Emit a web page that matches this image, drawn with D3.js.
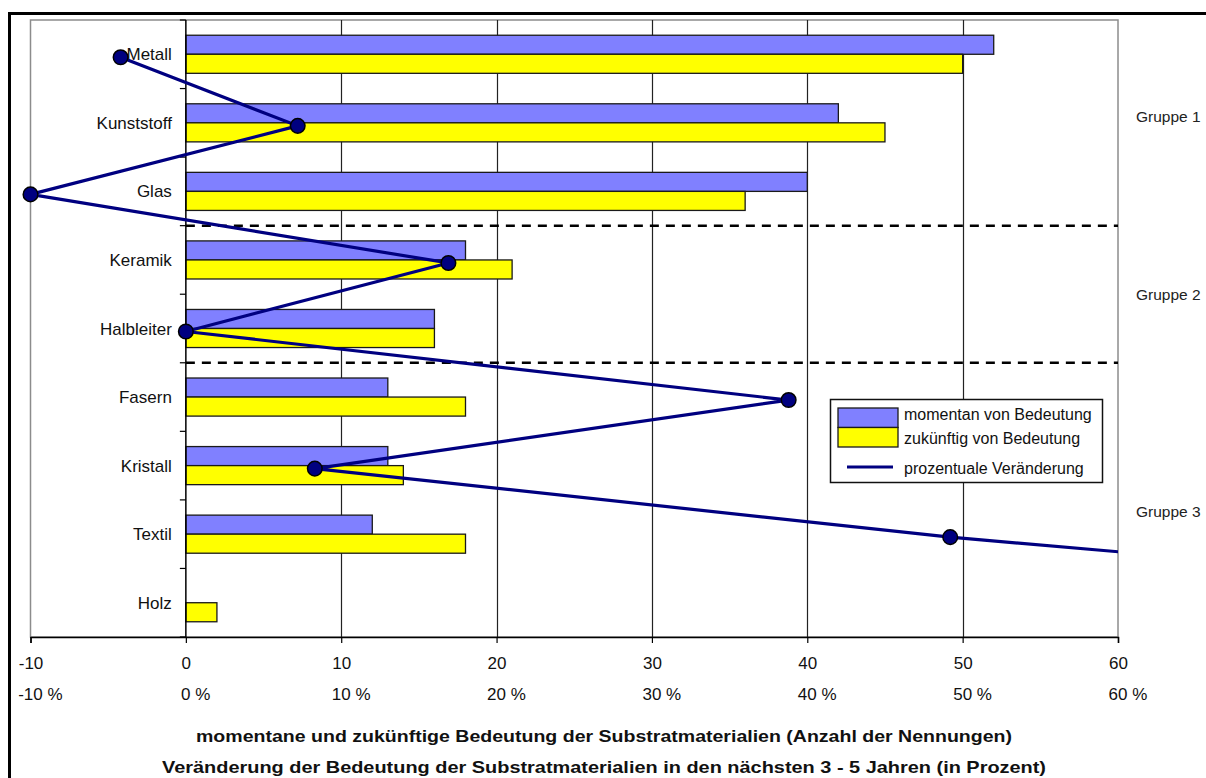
<!DOCTYPE html>
<html>
<head>
<meta charset="utf-8">
<script src="https://cdn.jsdelivr.net/npm/d3@7"></script>
<style>
  html, body { margin: 0; padding: 0; background: #fff; }
  svg { display: block; font-family: "Liberation Sans", Arial, sans-serif; }
</style>
</head>
<body>
<svg id="chart" width="1206" height="778"></svg>
<script>
// Substrate materials (top to bottom)
const categories = ["Metall", "Kunststoff", "Glas", "Keramik", "Halbleiter", "Fasern", "Kristall", "Textil", "Holz"];
// Number of mentions: currently important
const currentValues = [52, 42, 40, 18, 16, 13, 13, 12, 0];
// Number of mentions: important in the future
const futureValues = [50, 45, 36, 21, 16, 18, 14, 18, 2];
// Change of importance in percent
const changeValues = [-4.2, 7.2, -10, 16.9, 0, 38.8, 8.3, 49.2, 100];
// Axis ticks
const xTicks = [-10, 0, 10, 20, 30, 40, 50, 60];
// Groups: label, first and last category index, label anchor (in category steps)
const groupNames = ["Gruppe 1", "Gruppe 2", "Gruppe 3"];
const groupFirst = [0, 3, 5];
const groupLast = [2, 4, 8];
const groupAnchor = [1.49, 4.08, 7.25];
// Legend entries
const legendLabels = ["momentan von Bedeutung", "zukünftig von Bedeutung", "prozentuale Veränderung"];
// Axis titles
const titleCounts = "momentane und zukünftige Bedeutung der Substratmaterialien (Anzahl der Nennungen)";
const titleChange = "Veränderung der Bedeutung der Substratmaterialien in den nächsten 3 - 5 Jahren (in Prozent)";

const colors = { current: "#8080ff", future: "#ffff00", line: "#000080" };

const svg = d3.select("#chart");

// Outer frame
svg.append("rect")
  .attr("x", 9.5).attr("y", 13.5)
  .attr("width", 1400).attr("height", 1000)
  .attr("fill", "#fff").attr("stroke", "#000").attr("stroke-width", 3);

const plot = { left: 30.5, right: 1118, top: 20, bottom: 637 };

const x = d3.scaleLinear().domain([-10, 60]).range([plot.left, plot.right]);
const y = d3.scaleBand().domain(categories).range([plot.top, plot.bottom]).paddingInner(0).paddingOuter(0);
const barInner = d3.scaleBand().domain(["current", "future"]).range([0, y.bandwidth()]).paddingOuter(0.8).paddingInner(0);
// line points sit slightly below the band centre
const yPoint = c => y(c) + y.bandwidth() / 2 + 3;

// Plot area background and border
svg.append("rect")
  .attr("x", plot.left).attr("y", plot.top)
  .attr("width", plot.right - plot.left).attr("height", plot.bottom - plot.top)
  .attr("fill", "#fff").attr("stroke", "#8c8c8c").attr("stroke-width", 1.5);

// Vertical gridlines
svg.append("g").selectAll("line")
  .data(xTicks.filter(t => t > 0 && t < 60))
  .join("line")
  .attr("x1", d => Math.round(x(d)) + 0.5).attr("x2", d => Math.round(x(d)) + 0.5)
  .attr("y1", plot.top).attr("y2", plot.bottom)
  .attr("stroke", "#222").attr("stroke-width", 1.2);

// Group separators (dashed)
const separators = groupLast.slice(0, -1).map(i => y(categories[i]) + y.bandwidth());
svg.append("g").selectAll("line")
  .data(separators)
  .join("line")
  .attr("x1", x(0)).attr("x2", plot.right)
  .attr("y1", d => d).attr("y2", d => d)
  .attr("stroke", "#000").attr("stroke-width", 2.5).attr("stroke-dasharray", "9,7");

// Bars
const barData = categories.flatMap((c, i) => [
  { cat: c, key: "current", value: currentValues[i] },
  { cat: c, key: "future", value: futureValues[i] }
]).filter(d => d.value > 0);

svg.append("g").selectAll("rect")
  .data(barData)
  .join("rect")
  .attr("x", x(0))
  .attr("y", d => y(d.cat) + barInner(d.key))
  .attr("width", d => x(d.value) - x(0))
  .attr("height", barInner.bandwidth())
  .attr("fill", d => colors[d.key])
  .attr("stroke", "#1a1a1a").attr("stroke-width", 1.3);

// Category axis at x = 0
const yAxis = svg.append("g").attr("transform", `translate(${x(0)},0)`);
yAxis.append("line")
  .attr("x1", 0).attr("x2", 0).attr("y1", plot.top).attr("y2", plot.bottom)
  .attr("stroke", "#000").attr("stroke-width", 1.5);
yAxis.selectAll("line.tick")
  .data(d3.range(categories.length + 1))
  .join("line").attr("class", "tick")
  .attr("x1", -6).attr("x2", 0)
  .attr("y1", i => plot.top + i * y.step()).attr("y2", i => plot.top + i * y.step())
  .attr("stroke", "#000").attr("stroke-width", 1.2);
yAxis.selectAll("text")
  .data(categories)
  .join("text")
  .attr("x", -14)
  .attr("y", d => y(d) + y.bandwidth() / 2 + 6)
  .attr("text-anchor", "end")
  .attr("font-size", 17)
  .attr("fill", "#111")
  .text(d => d);

// Value axis at the bottom
const xAxis = svg.append("g").attr("transform", `translate(0,${plot.bottom})`)
  .call(d3.axisBottom(x).tickValues(xTicks).tickSize(6).tickFormat(d => d));
xAxis.select(".domain").attr("stroke", "#000").attr("stroke-width", 1.5);
xAxis.selectAll(".tick line").attr("stroke", "#000").attr("stroke-width", 1.2);
xAxis.selectAll(".tick text")
  .attr("y", 32).attr("dy", 0)
  .attr("font-size", 17).attr("font-family", "'Liberation Sans', Arial, sans-serif")
  .attr("fill", "#111");

// Second row of tick labels (percent), left-aligned with the number above
const numberLeft = [];
xAxis.selectAll(".tick text").each(function (d) {
  numberLeft.push(x(d) - this.getComputedTextLength() / 2);
});
svg.append("g").selectAll("text")
  .data(xTicks)
  .join("text")
  .attr("x", (d, i) => numberLeft[i])
  .attr("y", plot.bottom + 63)
  .attr("font-size", 17)
  .attr("fill", "#111")
  .text(d => `${d} %`);

// Percent change line, clipped to the plot area
svg.append("clipPath").attr("id", "plotClip")
  .append("rect")
  .attr("x", plot.left).attr("y", plot.top)
  .attr("width", plot.right - plot.left).attr("height", plot.bottom - plot.top);

const lineData = categories.map((c, i) => ({ cat: c, value: changeValues[i] }));
const lineGen = d3.line().x(d => x(d.value)).y(d => yPoint(d.cat));

const lineLayer = svg.append("g").attr("clip-path", "url(#plotClip)");
lineLayer.append("path")
  .datum(lineData)
  .attr("d", lineGen)
  .attr("fill", "none")
  .attr("stroke", colors.line).attr("stroke-width", 3.2)
  .attr("stroke-linejoin", "miter");

svg.append("g").selectAll("circle")
  .data(lineData.filter(d => d.value >= -10 && d.value <= 60))
  .join("circle")
  .attr("cx", d => x(d.value)).attr("cy", d => yPoint(d.cat))
  .attr("r", 7.3)
  .attr("fill", colors.line).attr("stroke", "#000").attr("stroke-width", 1.5);

// Group labels
svg.append("g").selectAll("text")
  .data(groupNames)
  .join("text")
  .attr("x", 1136)
  .attr("y", (d, i) => plot.top + groupAnchor[i] * y.step())
  .attr("font-size", 15.5)
  .attr("fill", "#222")
  .text(d => d);

// Legend
const legend = svg.append("g").attr("transform", "translate(830,399)");
legend.append("rect")
  .attr("x", 0.5).attr("y", 0.5).attr("width", 272).attr("height", 83)
  .attr("fill", "#fff").attr("stroke", "#111").attr("stroke-width", 1.5);
legend.append("rect")
  .attr("x", 8).attr("y", 9).attr("width", 60).attr("height", 19.5)
  .attr("fill", colors.current).attr("stroke", "#1a1a1a").attr("stroke-width", 1.3);
legend.append("rect")
  .attr("x", 8).attr("y", 28.5).attr("width", 60).attr("height", 19.5)
  .attr("fill", colors.future).attr("stroke", "#1a1a1a").attr("stroke-width", 1.3);
legend.append("line")
  .attr("x1", 17).attr("x2", 63).attr("y1", 68).attr("y2", 68)
  .attr("stroke", colors.line).attr("stroke-width", 3.2);
legend.selectAll("text")
  .data(legendLabels)
  .join("text")
  .attr("x", 74)
  .attr("y", (d, i) => [21, 45, 75][i])
  .attr("font-size", 16)
  .attr("fill", "#111")
  .text(d => d);

// Axis titles
svg.append("text")
  .attr("x", 196).attr("y", 742)
  .attr("font-size", 17).attr("font-weight", "bold")
  .attr("textLength", 816).attr("lengthAdjust", "spacingAndGlyphs")
  .attr("fill", "#111")
  .text(titleCounts);
svg.append("text")
  .attr("x", 162).attr("y", 773)
  .attr("font-size", 17).attr("font-weight", "bold")
  .attr("textLength", 884).attr("lengthAdjust", "spacingAndGlyphs")
  .attr("fill", "#111")
  .text(titleChange);
</script>
</body>
</html>
